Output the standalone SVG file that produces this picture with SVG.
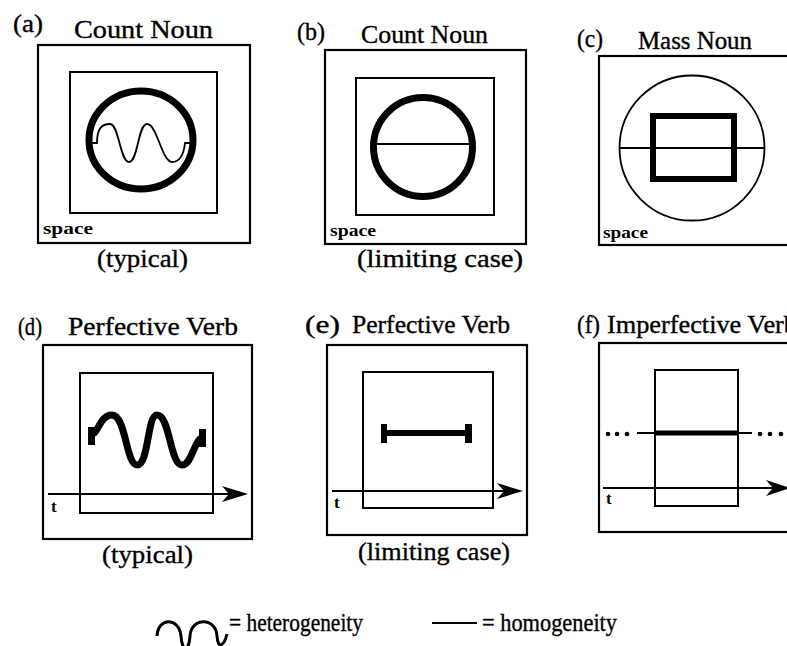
<svg xmlns="http://www.w3.org/2000/svg" width="787" height="646" viewBox="0 0 787 646">
<style>
.bg{fill:#fff}
.box{fill:none;stroke:#000;stroke-width:2.2}
.ibox{fill:none;stroke:#000;stroke-width:2}
.thin{fill:none;stroke:#000;stroke-width:1.8}
.thick{fill:none;stroke:#000;stroke-width:7}
.ttl{font-family:"Liberation Serif","Times New Roman",serif;font-size:25px;fill:#000;stroke:#000;stroke-width:0.35}
.sp{font-family:"Liberation Serif","Times New Roman",serif;font-size:17px;font-weight:bold;fill:#000}
.ah{fill:#000}
</style>
<rect class="bg" x="0" y="0" width="787" height="646"/>

<g id="panel-a">
  <rect class="box" x="38" y="45" width="212" height="198"/>
  <rect class="ibox" x="70" y="72" width="147" height="141"/>
  <ellipse class="thick" cx="141" cy="140" rx="52" ry="49"/>
  <path class="thin" d="M89,143 H97 C97,128 102,124 110,124 C119,124 120,162 129,162 C138,162 138,124 147,124 C157,124 162,162 172,162 C181,162 184,152 185,143 H193"/>
  <text class="ttl" x="13" y="32" textLength="30" lengthAdjust="spacingAndGlyphs">(a)</text>
  <text class="ttl" x="74" y="38" textLength="139" lengthAdjust="spacingAndGlyphs">Count Noun</text>
  <text class="sp" x="43" y="234" textLength="50" lengthAdjust="spacingAndGlyphs">space</text>
  <text class="ttl" x="97" y="267" textLength="91" lengthAdjust="spacingAndGlyphs">(typical)</text>
</g>

<g id="panel-b">
  <rect class="box" x="325" y="50" width="201" height="194"/>
  <rect class="ibox" x="356" y="78" width="138" height="137"/>
  <circle class="thick" cx="423" cy="147" r="49.5"/>
  <line class="thin" x1="374" y1="144" x2="472" y2="144"/>
  <text class="ttl" x="297" y="40" textLength="28" lengthAdjust="spacingAndGlyphs">(b)</text>
  <text class="ttl" x="361" y="43" textLength="127" lengthAdjust="spacingAndGlyphs">Count Noun</text>
  <text class="sp" x="330" y="236" textLength="46" lengthAdjust="spacingAndGlyphs">space</text>
  <text class="ttl" x="357" y="267" textLength="166" lengthAdjust="spacingAndGlyphs">(limiting case)</text>
</g>

<g id="panel-c">
  <rect class="box" x="599" y="56" width="210" height="189"/>
  <circle class="thin" cx="692" cy="148" r="72.5"/>
  <line class="thin" x1="620" y1="148" x2="765" y2="148"/>
  <rect fill="none" stroke="#000" stroke-width="6" x="653" y="116" width="81" height="63"/>
  <text class="ttl" x="577" y="47" textLength="26" lengthAdjust="spacingAndGlyphs">(c)</text>
  <text class="ttl" x="638" y="49" textLength="114" lengthAdjust="spacingAndGlyphs">Mass Noun</text>
  <text class="sp" x="603" y="238" textLength="45" lengthAdjust="spacingAndGlyphs">space</text>
</g>

<g id="panel-d">
  <rect class="box" x="43" y="345" width="209" height="194"/>
  <rect class="ibox" x="80" y="373" width="133" height="140"/>
  <path class="thick" d="M92,434 C98,434 100,415 112,415 C126,415 126,465 137,465 C149,465 147,415 157,415 C170,415 170,465 182,465 C192,465 194,440 202,438"/>
  <rect class="ah" x="88" y="427" width="7" height="18"/>
  <rect class="ah" x="199" y="429" width="7" height="18"/>
  <text class="ttl" x="18" y="335" textLength="24" lengthAdjust="spacingAndGlyphs">(d)</text>
  <text class="ttl" x="68" y="335" textLength="170" lengthAdjust="spacingAndGlyphs">Perfective Verb</text>
  <text class="sp" x="51" y="512">t</text>
  <text class="ttl" x="102" y="563" textLength="91" lengthAdjust="spacingAndGlyphs">(typical)</text>
</g>

<g id="panel-e">
  <rect class="box" x="327" y="345" width="200" height="190"/>
  <rect class="ibox" x="363" y="372" width="130" height="136"/>
  <line stroke="#000" stroke-width="6" x1="384" y1="433" x2="469" y2="433"/>
  <rect class="ah" x="381" y="424" width="6" height="19"/>
  <rect class="ah" x="465" y="424" width="7" height="19"/>
  <text class="ttl" x="305" y="333" textLength="35" lengthAdjust="spacingAndGlyphs">(e)</text>
  <text class="ttl" x="352" y="333" textLength="158" lengthAdjust="spacingAndGlyphs">Perfective Verb</text>
  <text class="sp" x="334" y="508">t</text>
  <text class="ttl" x="358" y="560" textLength="152" lengthAdjust="spacingAndGlyphs">(limiting case)</text>
</g>

<g id="panel-f">
  <rect class="box" x="599" y="343" width="210" height="189"/>
  <rect class="ibox" x="655" y="370" width="83" height="136"/>
  <line class="thin" x1="637" y1="433" x2="752" y2="433"/>
  <line stroke="#000" stroke-width="5" x1="655" y1="433" x2="738" y2="433"/>
  <g class="ah">
    <circle cx="608" cy="434" r="2.3"/><circle cx="617" cy="434" r="2.3"/><circle cx="627" cy="434" r="2.3"/>
    <circle cx="760" cy="434" r="2.3"/><circle cx="770" cy="434" r="2.3"/><circle cx="781" cy="434" r="2.3"/>
  </g>
  <text class="ttl" x="577" y="333" textLength="23" lengthAdjust="spacingAndGlyphs">(f)</text>
  <text class="ttl" x="607" y="333" textLength="190" lengthAdjust="spacingAndGlyphs">Imperfective Verb</text>
  <text class="sp" x="606" y="504">t</text>
</g>

<g id="connectors">
  <line class="thin" x1="48" y1="494" x2="235" y2="494"/>
  <polygon class="ah" points="248,494 222,486 229,494 222,502"/>
  <line class="thin" x1="332" y1="491" x2="510" y2="491"/>
  <polygon class="ah" points="523,491 497,483 504,491 497,499"/>
  <line class="thin" x1="603" y1="488" x2="775" y2="488"/>
  <polygon class="ah" points="790,488 766,480 773,488 766,496"/>
</g>

<g id="legend">
  <path fill="none" stroke="#000" stroke-width="3" d="M157,636 C158,617 179,617 181,636 C182,652 189,652 190,636 C191,617 216,617 217,636 C218,650 224,646 227,634"/>
  <text class="ttl" x="229" y="631" textLength="134" lengthAdjust="spacingAndGlyphs">= heterogeneity</text>
  <line class="thin" x1="432" y1="623" x2="477" y2="623"/>
  <text class="ttl" x="482" y="631" textLength="135" lengthAdjust="spacingAndGlyphs">= homogeneity</text>
</g>
</svg>
